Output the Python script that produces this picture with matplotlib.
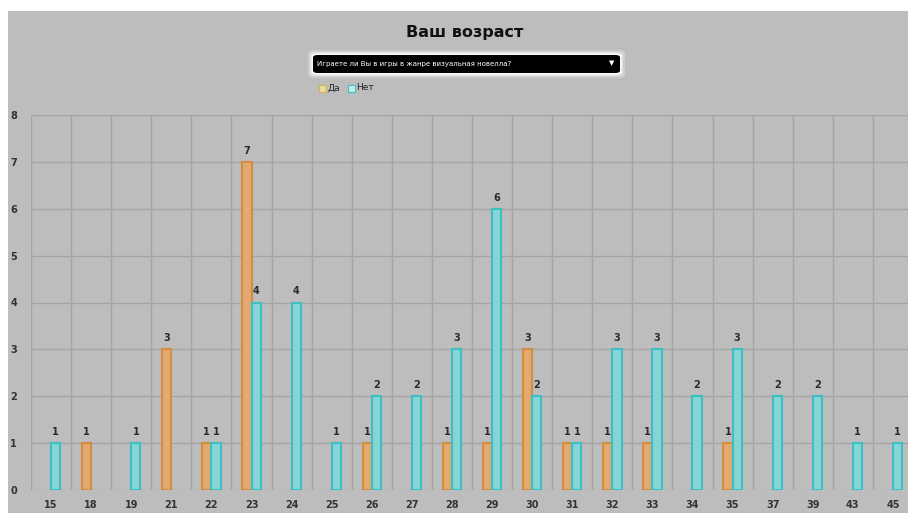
import matplotlib.pyplot as plt
from matplotlib.patches import Rectangle, FancyBboxPatch
import numpy as np

# Ages and counts per answer
ages = ['15', '18', '19', '21', '22', '23', '24', '25', '26', '27', '28',
        '29', '30', '31', '32', '33', '34', '35', '37', '39', '43', '45']
da = [0, 1, 0, 3, 1, 7, 0, 0, 1, 0, 1, 1, 3, 1, 1, 1, 0, 1, 0, 0, 0, 0]
net = [1, 0, 1, 0, 1, 4, 4, 1, 2, 2, 3, 6, 2, 1, 3, 3, 2, 3, 2, 2, 1, 1]
yticks = list(range(0, 9))

W, H = 908, 513
fig = plt.figure(figsize=(W / 100, H / 100), dpi=100)
fig.patch.set_facecolor('white')

def fx(px):
    return px / W

def fy(py):
    return 1 - py / H

# gray panel behind everything
bg = '#bdbdbd'
fig.patches.append(Rectangle((fx(8), 0), 1, fy(11), transform=fig.transFigure,
                             facecolor=bg, edgecolor='none', zorder=-5))

ax = fig.add_axes([fx(31), fy(490), fx(913) - fx(31), fy(115) - fy(490)])
ax.set_facecolor(bg)
for s in ax.spines.values():
    s.set_visible(False)

x = np.arange(len(ages))
w = 0.23
grid_c = '#a4a4a4'
for k in range(len(ages) + 1):
    ax.axvline(k - 0.5, color=grid_c, lw=1.0, zorder=1)
for v in yticks:
    ax.axhline(v, color=grid_c, lw=1.0, zorder=1)

for xi, v in zip(x, da):
    if v > 0:
        ax.bar(xi - w / 2, v, w, color='#e2aa70', edgecolor='#d58c3c', lw=1.5, zorder=3)
        ax.text(xi - w / 2, v + 0.13, str(v), ha='center', va='bottom',
                fontsize=7, fontweight='bold', color='#2a2a2a', zorder=4)
for xi, v in zip(x, net):
    if v > 0:
        ax.bar(xi + w / 2, v, w, color='#86d4d4', edgecolor='#3cc0c4', lw=1.5, zorder=3)
        ax.text(xi + w / 2, v + 0.13, str(v), ha='center', va='bottom',
                fontsize=7, fontweight='bold', color='#2a2a2a', zorder=4)

ax.set_xlim(-0.5, len(ages) - 0.5)
ax.set_ylim(0, 8)
ax.set_xticks(x)
ax.set_xticklabels(ages)
ax.set_yticks(yticks)
ax.tick_params(length=0, labelsize=7, labelcolor='#333333')
ax.tick_params(axis='x', pad=7)
ax.tick_params(axis='y', pad=10)
for lab in ax.get_xticklabels() + ax.get_yticklabels():
    lab.set_fontweight('bold')

# title
fig.text(fx(465), fy(32), 'Ваш возраст', ha='center', va='center',
         fontsize=11.5, fontweight='bold', color='#111111')

# dropdown box with glow
for pad, a in [(5, 0.25), (3, 0.45), (1.5, 0.8)]:
    fig.patches.append(FancyBboxPatch((fx(313 - pad), fy(73 + pad)),
                                      fx(307 + 2 * pad), fy(55 - pad) - fy(73 + pad),
                                      boxstyle='round,pad=0,rounding_size=0.006',
                                      transform=fig.transFigure, facecolor='white',
                                      edgecolor='none', alpha=a, zorder=1))
fig.patches.append(FancyBboxPatch((fx(313), fy(73)), fx(307), fy(55) - fy(73),
                                  boxstyle='round,pad=0,rounding_size=0.005',
                                  transform=fig.transFigure, facecolor='black',
                                  edgecolor='none', zorder=2))
fig.text(fx(317), fy(64), 'Играете ли Вы в игры в жанре визуальная новелла?',
         ha='left', va='center', fontsize=5, color='white', zorder=3)
fig.text(fx(612), fy(63), '▼', ha='center', va='center', fontsize=5,
         color='white', zorder=3)

# legend
fig.patches.append(Rectangle((fx(319), fy(92)), fx(7), fy(85) - fy(92),
                             transform=fig.transFigure, facecolor='#e8dca0',
                             edgecolor='#d9b24a', lw=0.8))
fig.text(fx(327), fy(88), 'Да', ha='left', va='center', fontsize=6.5, color='#222222')
fig.patches.append(Rectangle((fx(348), fy(92)), fx(7), fy(85) - fy(92),
                             transform=fig.transFigure, facecolor='#c6ecec',
                             edgecolor='#3cc3c0', lw=0.8))
fig.text(fx(356), fy(88), 'Нет', ha='left', va='center', fontsize=6.5, color='#222222')

fig.savefig('out.png', dpi=100)
